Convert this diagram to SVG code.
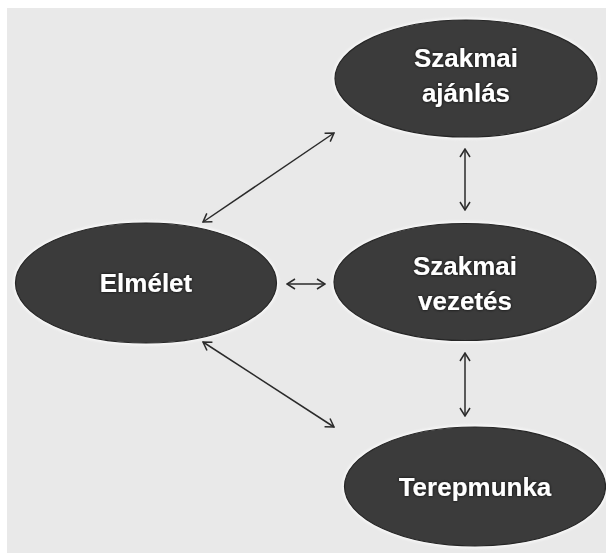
<svg xmlns="http://www.w3.org/2000/svg" width="606" height="553" viewBox="0 0 606 553">
<defs>
<style>
.node-bg{fill:#f7f7f7;}
.node{fill:#3b3b3b;stroke:#262626;stroke-width:1.2;}
.lbl{font-family:"Liberation Sans",Arial,sans-serif;font-weight:bold;font-size:26px;fill:#ffffff;text-anchor:middle;filter:url(#shadow);}
.conn{stroke:#2a2a2a;stroke-width:1.5;fill:none;marker-start:url(#arr);marker-end:url(#arr);}
</style>
<filter id="shadow" x="-20%" y="-40%" width="140%" height="180%">
<feGaussianBlur in="SourceAlpha" stdDeviation="1.5" result="b"/>
<feFlood flood-color="#000000" flood-opacity="0.9"/>
<feComposite in2="b" operator="in" result="s"/>
<feMerge><feMergeNode in="s"/><feMergeNode in="SourceGraphic"/></feMerge>
</filter>
<filter id="glow" x="-10%" y="-10%" width="120%" height="120%">
<feGaussianBlur stdDeviation="1.2"/>
</filter>
<marker id="arr" viewBox="0 0 10 12" refX="9" refY="6" markerWidth="10" markerHeight="12" markerUnits="userSpaceOnUse" orient="auto-start-reverse">
<path d="M1,1 L9,6 L1,11" fill="none" stroke="#2a2a2a" stroke-width="1.5"/>
</marker>
</defs>
<rect x="0" y="0" width="606" height="553" fill="#ffffff"/>
<rect x="7" y="8" width="599" height="545" fill="#e9e9e9"/>
<g id="connectors">
<line class="conn" x1="203" y1="222" x2="334" y2="133"/>
<line class="conn" x1="465" y1="149" x2="465" y2="210"/>
<line class="conn" x1="287" y1="284" x2="325" y2="284"/>
<line class="conn" x1="465" y1="353" x2="465" y2="416"/>
<line class="conn" x1="203" y1="342" x2="334" y2="427"/>
</g>
<g id="node-szakmai-ajanlas">
<ellipse class="node-bg" cx="466" cy="78.5" rx="133.5" ry="61" filter="url(#glow)"/>
<ellipse class="node" cx="466" cy="78.5" rx="131" ry="58.5"/>
<text class="lbl" x="466" y="67">Szakmai</text>
<text class="lbl" x="466" y="102">ajánlás</text>
</g>
<g id="node-elmelet">
<ellipse class="node-bg" cx="146" cy="283" rx="133" ry="62.5" filter="url(#glow)"/>
<ellipse class="node" cx="146" cy="283" rx="130.5" ry="60"/>
<text class="lbl" x="146" y="292">Elmélet</text>
</g>
<g id="node-szakmai-vezetes">
<ellipse class="node-bg" cx="465" cy="282" rx="133.5" ry="61" filter="url(#glow)"/>
<ellipse class="node" cx="465" cy="282" rx="131" ry="58.5"/>
<text class="lbl" x="465" y="274.5">Szakmai</text>
<text class="lbl" x="465" y="309.5">vezetés</text>
</g>
<g id="node-terepmunka">
<ellipse class="node-bg" cx="475" cy="486.5" rx="133" ry="62" filter="url(#glow)"/>
<ellipse class="node" cx="475" cy="486.5" rx="130.5" ry="59.5"/>
<text class="lbl" x="475" y="496">Terepmunka</text>
</g>
</svg>
